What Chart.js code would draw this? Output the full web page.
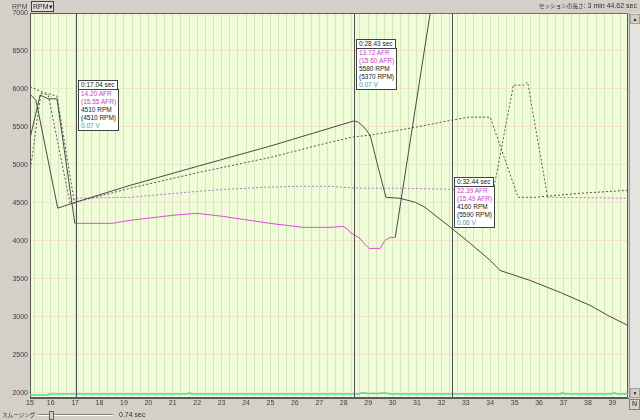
<!DOCTYPE html>
<html><head><meta charset="utf-8">
<script src="https://cdn.jsdelivr.net/npm/chart.js@4"></script>
<style>
html,body{margin:0;padding:0;background:#d4d0c8;}
#wrap{position:relative;width:640px;height:420px;overflow:hidden;font-family:"Liberation Sans",Arial,sans-serif;}
canvas{position:absolute;left:0;top:0;}
.t{position:absolute;white-space:nowrap;color:#404040;font-size:7px;line-height:8px;}
.jp{font-family:"Noto Sans CJK JP","Liberation Sans",sans-serif;font-size:5.6px;}
.box{position:absolute;font-size:6.5px;line-height:8px;white-space:nowrap;}
.box .hd{display:inline-block;background:#fff;border:1px solid #404040;padding:0 2px;color:#202020;}
.box .bd{background:#fff;border:1px solid #404040;margin-top:-1px;padding:0 2px;}
</style></head>
<body><div id="wrap"><canvas id="c" width="640" height="420"></canvas></div>
<script>
// ---- data ----
const xTickLabels = [15,16,17,18,19,20,21,22,23,24,25,26,27,28,29,30,31,32,33,34,35,36,37,38,39];
const yTickLabels = [2000,2500,3000,3500,4000,4500,5000,5500,6000,6500,7000];
const xRange = [15.155, 39.64];

// RPM (current session, solid)
const rpmT = [15.155,15.40,16.29,17.04,19.25,22.06,25.02,28.43,28.60,28.87,29.08,29.41,29.73,30.30,30.93,31.33,31.74,32.44,33.18,34.00,34.40,35.63,36.87,38.09,38.90,39.64];
const rpmV = [5930,5850,4430,4510,4730,4985,5250,5580,5562,5483,5391,4969,4573,4560,4507,4441,4336,4160,3966,3742,3610,3478,3320,3149,3003,2885];

// RPM (comparison session, dotted)
const rpmPrevT = [15.155,15.65,16.26,16.98,17.04,19.25,22.06,25.02,27.44,28.43,29.08,30.72,32.44,33.12,34.00,35.14,35.83,37.68,39.64];
const rpmPrevV = [6030,5960,5905,4490,4510,4692,4900,5100,5298,5370,5391,5483,5590,5628,5628,4573,4573,4626,4665];

// AFR trace (current, solid) as plotted on the chart's scale
const afrT = [15.155,15.57,15.90,16.26,16.99,17.04,18.51,19.25,21.01,21.99,23.05,24.98,26.34,27.44,27.97,28.18,28.26,28.67,28.79,29.04,29.49,29.69,29.90,30.11,31.54,39.64];
const afrV = [5350,5920,5870,5870,4230,4230,4230,4270,4336,4362,4322,4230,4177,4177,4190,4150,4111,4032,3979,3900,3900,4006,4045,4045,7000,7000];

// AFR trace (comparison, dotted) as plotted on the chart's scale
const afrPrevT = [15.155,15.60,15.90,16.79,17.04,19.25,22.53,24.70,26.21,27.44,27.97,28.67,30.46,32.44,34.13,34.95,35.37,35.53,36.35,39.64];
const afrPrevV = [4900,5945,5920,4500,4560,4573,4665,4705,4718,4718,4705,4692,4692,4679,4665,6050,6050,6090,4573,4560];

// O2 volts trace as plotted on the chart's scale
const voltT = [15.155,15.90,15.95,21.57,21.67,21.77,28.58,28.78,28.97,29.47,29.67,29.86,36.87,36.95,37.06,38.97,39.07,39.17,39.64];
const voltV = [1971,1971,1984,1984,1995,1984,1984,2000,1990,1988,1998,1984,1984,1998,1984,1984,1998,1984,1984];

// cursor read-outs
const cursorTimes = [17.04, 28.43, 32.44];
const cursorAfr = [14.20, 13.72, 22.39];
const cursorAfrPrev = [15.55, 15.60, 15.49];
const cursorRpm = [4510, 5580, 4160];
const cursorRpmPrev = [4510, 5370, 5590];
const cursorVolt = [0.07, 0.07, 0.06];

// ---- layout ----
const boxTops = [80, 39, 177];
const pts = (T, V) => T.map((t, i) => ({x: t, y: V[i]}));
const gridTimes = [xRange[0]];
xTickLabels.forEach(l => { [l, l + 1/3, l + 2/3].forEach(v => { if (v > xRange[0] + 0.05 && v <= xRange[1]) gridTimes.push(v); }); });

const DARK = '#4a4a4a';
const hot = (ctx) => {
  const a = ctx.p0.parsed.y, b = ctx.p1.parsed.y;
  return (Math.max(a, b) > 4800 && !(a >= 7000 && b >= 7000));
};

const areaPlugin = {
  id: 'area',
  beforeDraw(chart) {
    const {ctx, chartArea: a} = chart;
    ctx.save();
    ctx.fillStyle = '#f0fcd8';
    ctx.fillRect(a.left, a.top, a.right - a.left, a.bottom - a.top);
    ctx.restore();
  },
  beforeDatasetsDraw(chart) {
    const {ctx, chartArea: a} = chart;
    ctx.save();
    ctx.strokeStyle = '#5a5a5a';
    ctx.lineWidth = 1;
    ctx.strokeRect(a.left + 0.5, a.top + 0.5, a.right - a.left - 1, a.bottom - a.top - 1);
    ctx.restore();
  },
  afterDatasetsDraw(chart) {
    const {ctx, chartArea: a, scales: {x}} = chart;
    ctx.save();
    ctx.strokeStyle = '#505050';
    ctx.lineWidth = 1;
    cursorTimes.forEach(t => {
      const px = Math.round(x.getPixelForValue(t)) + 0.5;
      ctx.beginPath(); ctx.moveTo(px, a.top); ctx.lineTo(px, a.bottom); ctx.stroke();
    });
    ctx.restore();
  }
};

const FONT = {size: 7, family: '"Liberation Sans", Arial, sans-serif'};

const chart = new Chart(document.getElementById('c'), {
  type: 'line',
  data: {
    datasets: [
      {data: pts(rpmT, rpmV), borderColor: DARK, borderWidth: 1},
      {data: pts(afrT, afrV), borderColor: '#e048e0', borderWidth: 1,
        segment: {borderColor: c => hot(c) ? DARK : undefined}},
      {data: pts(rpmPrevT, rpmPrevV), borderColor: '#555555', borderWidth: 1, borderDash: [2, 2]},
      {data: pts(afrPrevT, afrPrevV), borderColor: '#b07cc4', borderWidth: 1, borderDash: [2, 2],
        segment: {borderColor: c => hot(c) ? '#5a5a5a' : undefined}},
      {data: pts(voltT, voltV), borderColor: '#4cdc96', borderWidth: 1.5}
    ]
  },
  options: {
    responsive: false, animation: false, events: [],
    layout: {padding: {top: 13, right: 12, left: 0, bottom: 0}},
    plugins: {legend: {display: false}, tooltip: {enabled: false}},
    elements: {point: {radius: 0}, line: {tension: 0}},
    scales: {
      x: {
        type: 'linear', min: xRange[0], max: xRange[1],
        afterBuildTicks: ax => { ax.ticks = gridTimes.map(v => ({value: v})); },
        afterFit: s => { s.height = 22; },
        grid: {color: '#d6e4c0', drawTicks: false},
        border: {color: '#5a5a5a'},
        ticks: {autoSkip: false, maxRotation: 0, minRotation: 0, padding: 1, font: FONT, color: '#404040',
          callback: v => v === xRange[0] ? String(xTickLabels[0]) :
            (Math.abs(v - Math.round(v)) < 1e-6 ? String(Math.round(v)) : '')}
      },
      y: {
        min: 1930, max: 7000,
        afterBuildTicks: ax => { ax.ticks = yTickLabels.map(v => ({value: v})); },
        afterFit: s => { s.width = 30; },
        grid: {color: '#f0e4cc', drawTicks: false},
        border: {color: '#5a5a5a'},
        ticks: {padding: 2, font: FONT, color: '#404040', callback: v => String(v)}
      }
    }
  },
  plugins: [areaPlugin]
});

// ---- overlays (real text) ----
const wrap = document.getElementById('wrap');
function add(html, css, cls) {
  const d = document.createElement('div');
  d.className = cls || 't';
  d.innerHTML = html;
  Object.assign(d.style, css);
  wrap.appendChild(d);
  return d;
}
const xs = chart.scales.x;
cursorTimes.forEach((t, i) => {
  add('<div class="hd">0:' + t.toFixed(2) + ' sec</div>' +
      '<div class="bd">' +
      '<div style="color:#c83cc8">' + cursorAfr[i].toFixed(2) + ' AFR</div>' +
      '<div style="color:#c83cc8">(' + cursorAfrPrev[i].toFixed(2) + ' AFR)</div>' +
      '<div style="color:#202020">' + cursorRpm[i] + ' RPM</div>' +
      '<div style="color:#202020">(' + cursorRpmPrev[i] + ' RPM)</div>' +
      '<div style="color:#30a0a0">' + cursorVolt[i].toFixed(2) + ' V</div>' +
      '</div>',
      {left: (Math.round(xs.getPixelForValue(t)) + 2) + 'px', top: boxTops[i] + 'px'}, 'box');
});

// header
add('RPM', {left: '12px', top: '3px', color: '#505050'});
add('RPM&#9662;', {left: '31px', top: '1px', width: '20px', height: '9px', border: '1px solid #404040',
  background: '#e0ddd6', paddingLeft: '1px', lineHeight: '9px', color: '#202020'});
add('<span class="jp">セッションの長さ</span>: 3 min 44.62 sec', {right: '3px', top: '2px', color: '#303030'});

// bottom slider row
add('<span class="jp">スムージング</span>', {left: '2px', top: '411px', color: '#303030'});
add('', {left: '38px', top: '414px', width: '75px', height: '0px', borderTop: '1px solid #808080', borderBottom: '1px solid #fff'});
add('', {left: '49px', top: '411px', width: '3px', height: '7px', border: '1px solid #606060', background: '#d4d0c8'});
add('0.74 sec', {left: '119px', top: '411px', color: '#303030'});

// scrollbar + corner button
add('', {left: '629px', top: '13px', width: '10px', height: '385px', background: '#e6e4de', borderLeft: '1px solid #9a9a9a'});
add('&#9650;', {left: '630px', top: '14px', width: '8px', height: '8px', fontSize: '5px', textAlign: 'center', color: '#202020', background: '#d4d0c8', border: '1px solid #a0a0a0'});
add('&#9660;', {left: '630px', top: '388px', width: '8px', height: '8px', fontSize: '5px', textAlign: 'center', color: '#202020', background: '#d4d0c8', border: '1px solid #a0a0a0'});
add('N', {left: '629px', top: '399px', width: '9px', height: '9px', textAlign: 'center', color: '#202020', border: '1px solid #808080'});
</script>
</body></html>
